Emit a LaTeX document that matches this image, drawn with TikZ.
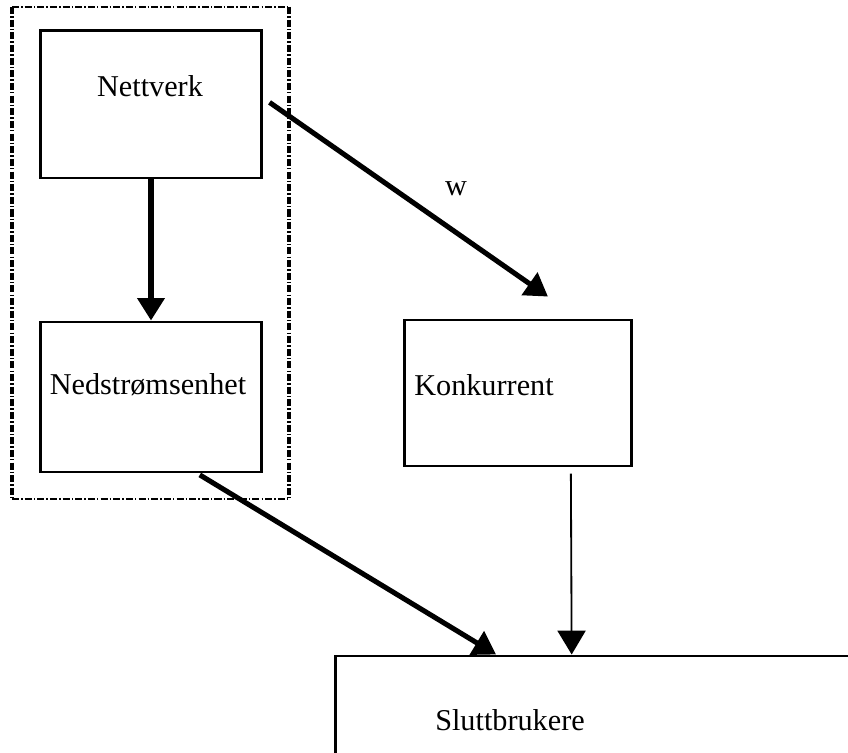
\documentclass[tikz,border=0pt]{standalone}
\usepackage{fontspec}
\setmainfont{Liberation Serif}
\usetikzlibrary{arrows.meta}

\begin{document}
\begin{tikzpicture}[x=0.025cm, y=-0.025cm,
  box/.style={draw, line width=2.1pt, inner sep=0pt},
  lbl/.style={font=\fontsize{21.5}{26}\selectfont},
  fat/.style={line width=3.6pt, -{Triangle[width=19pt,length=16pt]}},
  slim/.style={line width=1.3pt, -{Triangle[width=20pt,length=17pt]}},
  frame/.style={dash pattern=on 5pt off 1.5pt on 1pt off 1.5pt}]
  \clip (0,0) rectangle (848,753);
  % dashed frame round the two left boxes
  \draw[frame, line width=0.9pt] (12,7) -- (289,7);
  \draw[frame, line width=0.9pt] (12,499) -- (289,499);
  \draw[frame, line width=3.2pt] (12,7) -- (12,499);
  \draw[frame, line width=3.2pt] (289,7) -- (289,499);
  % boxes
  \node[box, minimum width=5.5cm, minimum height=3.675cm] (net) at (151,104.5) {};
  \node[box, minimum width=5.5cm, minimum height=3.75cm] (ned) at (151,397) {};
  \node[box, minimum width=5.65cm, minimum height=3.65cm] (konk) at (518,393) {};
  \node[box, minimum width=14.1cm, minimum height=3.6cm] (slutt) at (618,728) {};
  % labels
  \node[lbl] (netlbl) at (150,86) {Nettverk};
  \node[lbl] (nedlbl) at (148,385) {Nedstrømsenhet};
  \node[lbl] (konklbl) at (484,385) {Konkurrent};
  \node[lbl] (sluttlbl) at (510,720) {Sluttbrukere};
  \node[lbl] (wlbl) at (456,189) {w};
  % arrows
  \draw[fat] (net.south) -- (ned.north);
  \draw[fat] ([xshift=5pt, yshift=1.5pt]net.east) -- ([xshift=21.3pt, yshift=15.6pt]konk.north);
  \draw[fat] ([xshift=34.7pt, yshift=-1pt]ned.south) -- ([xshift=114.9pt]slutt.north west);
  \draw[slim] ([xshift=37.6pt, yshift=-4.3pt]konk.south) -- ([xshift=168.7pt]slutt.north west);
\end{tikzpicture}
\end{document}
